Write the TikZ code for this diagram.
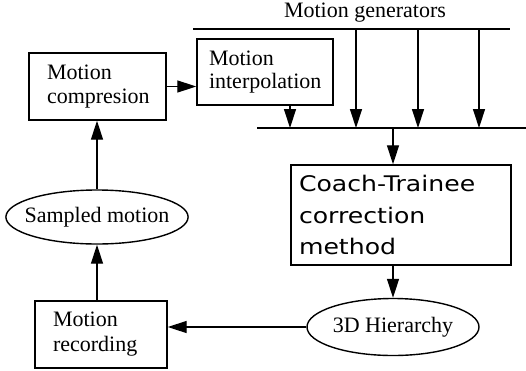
\documentclass[tikz,border=0pt]{standalone}
\usepackage{fontspec}
\setmainfont{Liberation Serif}
\newfontfamily\coachfont[FakeStretch=1.17]{DejaVu Sans}
\usetikzlibrary{arrows.meta,shapes.geometric}
\begin{document}
\begin{tikzpicture}[x=1pt,y=-1pt,
  every node/.style={font=\fontsize{22}{23.5}\selectfont},
  box/.style={draw,line width=1.4pt,rectangle,align=left,inner ysep=0pt},
  oval/.style={draw,line width=1.4pt,ellipse,inner ysep=0pt},
  conn/.style={line width=1.3pt,-{Triangle[length=19pt,width=12pt]}},
  bar/.style={line width=1.3pt}]
\useasboundingbox (0,0) rectangle (526,370);
% nodes
\node[box,minimum width=137pt,minimum height=67pt,text width=101pt,inner xsep=18pt] (comp) at (97.5,86.5) {Motion\\compresion};
\node[box,minimum width=136pt,minimum height=66pt,text width=112pt,inner xsep=12pt] (interp) at (265,72) {Motion\\interpolation};
\node[box,minimum width=220pt,minimum height=100pt,text width=204pt,inner xsep=8pt,font=\coachfont\fontsize{21.5}{31.5}\selectfont] (coach) at (401,215) {Coach-Trainee\\correction\\method};
\node[oval,inner xsep=0pt,minimum width=172pt,minimum height=57pt] (hier) at (393,327) {3D Hierarchy};
\node[box,minimum width=132pt,minimum height=67pt,text width=96pt,inner xsep=18pt,font=\fontsize{22}{25}\selectfont] (rec) at (101,334.5) {Motion\\recording};
\node[oval,inner xsep=-8pt,minimum width=180pt,minimum height=54pt] (samp) at (97,217) {Sampled motion};
\node (gen) at (365,13) {Motion generators};
% bars
\coordinate (t1) at (193,29);
\coordinate (t2) at (510,29);
\coordinate (b1) at (257,128);
\coordinate (b2) at (526,128);
\draw[bar] (t1) -- (t2);
\draw[bar] (b1) -- (b2);
% connectors
\foreach \x in {356,418,479}{
  \draw[conn] (\x,29) -- (\x,128);
}
\draw[conn] (interp.south -| 290,0) -- (b1 -| 290,0);
\draw[conn] (b1 -| coach.north) ++(-8,0) -- ([xshift=-8pt]coach.north);
\draw[conn] (coach.south -| hier.north) -- (hier.north);
\draw[conn] (hier.west) -- (rec.east |- hier.west);
\draw[conn] (rec.north -| samp.south) -- (samp.south);
\draw[conn] (samp.north) -- (comp.south -| samp.north);
\draw[conn] (comp.east) -- (interp.west |- comp.east);
\end{tikzpicture}
\end{document}
